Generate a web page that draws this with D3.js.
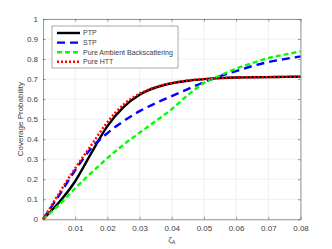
<!DOCTYPE html>
<html>
<head>
<meta charset="utf-8">
<script src="https://cdn.jsdelivr.net/npm/d3@7"></script>
<style>
  body { margin: 0; background: #fff; }
  text { font-family: "Liberation Sans", Arial, sans-serif; }
</style>
</head>
<body>
<svg id="chart" width="332" height="249"></svg>
<script>
// x values (zeta_A) shared by all curves
const zeta = [0, 0.005, 0.01, 0.015, 0.02, 0.025, 0.03, 0.035, 0.04, 0.045,
  0.05, 0.055, 0.06, 0.065, 0.07, 0.075, 0.08];
const ptp = [0, 0.085, 0.19, 0.33, 0.465, 0.56, 0.622, 0.658, 0.679, 0.692,
  0.70, 0.705, 0.708, 0.709, 0.71, 0.711, 0.712];
const stp = [0, 0.12, 0.245, 0.355, 0.43, 0.49, 0.54, 0.58, 0.615, 0.65,
  0.685, 0.715, 0.74, 0.765, 0.785, 0.80, 0.813];
const pureAB = [0, 0.072, 0.155, 0.232, 0.305, 0.372, 0.432, 0.49, 0.55, 0.62,
  0.68, 0.718, 0.752, 0.78, 0.805, 0.822, 0.838];
const pureHTT = [0, 0.13, 0.255, 0.37, 0.485, 0.572, 0.627, 0.66, 0.68, 0.693,
  0.70, 0.705, 0.708, 0.709, 0.71, 0.711, 0.712];
const xTicks = [0.01, 0.02, 0.03, 0.04, 0.05, 0.06, 0.07, 0.08];
const yTicks = [0, 0.1, 0.2, 0.3, 0.4, 0.5, 0.6, 0.7, 0.8, 0.9, 1];

const series = [
  {name: 'PTP', values: ptp, color: '#000000', dash: null},
  {name: 'STP', values: stp, color: '#0000ff', dash: '8,5'},
  {name: 'Pure Ambient Backscattering', values: pureAB, color: '#00ff00', dash: '5,3'},
  {name: 'Pure HTT', values: pureHTT, color: '#ff0000', dash: '2,2'},
];

const margin = {top: 19, right: 31.5, bottom: 29.7, left: 43};
const width = 332, height = 249;
const svg = d3.select('#chart');

const x = d3.scaleLinear().domain([0, 0.08])
    .range([margin.left, width - margin.right]);
const y = d3.scaleLinear().domain([0, 1])
    .range([height - margin.bottom, margin.top]);

// grid
svg.append('g').selectAll('line').data(xTicks).join('line')
    .attr('x1', d => x(d)).attr('x2', d => x(d))
    .attr('y1', y(0)).attr('y2', y(1))
    .attr('stroke', '#ebebeb').attr('stroke-width', 0.8);
svg.append('g').selectAll('line').data(yTicks).join('line')
    .attr('y1', d => y(d)).attr('y2', d => y(d))
    .attr('x1', x(0)).attr('x2', x(0.08))
    .attr('stroke', '#ebebeb').attr('stroke-width', 0.8);

// axes (ticks inside, box on)
const axisColor = '#555555';
const textColor = '#404040';
const styleAxis = g => {
  g.select('.domain').attr('stroke', axisColor).attr('stroke-width', 0.6);
  g.selectAll('.tick line').attr('stroke', axisColor).attr('stroke-width', 0.6);
  g.selectAll('.tick text').attr('fill', textColor)
      .style('font-family', '"Liberation Sans", Arial, sans-serif')
      .style('font-size', '8px');
};
svg.append('g').attr('transform', `translate(0,${y(0)})`)
    .call(d3.axisBottom(x).tickValues(xTicks).tickSize(-2.5).tickPadding(6)
        .tickSizeOuter(0).tickFormat(d3.format('.2f')))
    .call(styleAxis);
svg.append('g').attr('transform', `translate(0,${y(1)})`)
    .call(d3.axisTop(x).tickValues(xTicks).tickSize(-2.5).tickSizeOuter(0)
        .tickFormat(''))
    .call(styleAxis);
svg.append('g').attr('transform', `translate(${x(0)},0)`)
    .call(d3.axisLeft(y).tickValues(yTicks).tickSize(-2.5).tickPadding(5)
        .tickSizeOuter(0).tickFormat(d => d3.format('')(+d.toFixed(1))))
    .call(styleAxis);
svg.append('g').attr('transform', `translate(${x(0.08)},0)`)
    .call(d3.axisRight(y).tickValues(yTicks).tickSize(-2.5).tickSizeOuter(0)
        .tickFormat(''))
    .call(styleAxis);

// curves
const line = d3.line()
    .x((d, i) => x(zeta[i]))
    .y(d => y(d))
    .curve(d3.curveMonotoneX);
svg.append('g').selectAll('path').data(series).join('path')
    .attr('d', s => line(s.values))
    .attr('fill', 'none')
    .attr('stroke', s => s.color)
    .attr('stroke-width', 2.4)
    .attr('stroke-dasharray', s => s.dash);

// legend
const lg = svg.append('g').attr('transform', 'translate(52,26)');
lg.append('rect').attr('width', 126).attr('height', 42)
    .attr('fill', '#fff').attr('stroke', '#555555').attr('stroke-width', 0.5);
const item = lg.selectAll('g.item').data(series).join('g')
    .attr('class', 'item')
    .attr('transform', (d, i) => `translate(0,${7 + i * 9.6})`);
item.append('line').attr('x1', 5).attr('x2', 28)
    .attr('stroke', d => d.color).attr('stroke-width', 2.4)
    .attr('stroke-dasharray', d => d.dash);
item.append('text').attr('x', 31).attr('dy', '0.35em')
    .style('font-size', '7px').attr('fill', textColor)
    .text(d => d.name);

// axis labels
svg.append('text')
    .attr('transform', `translate(23,${(y(0) + y(1)) / 2}) rotate(-90)`)
    .attr('text-anchor', 'middle').style('font-size', '8px').attr('fill', textColor)
    .text('Coverage Probability');
const xl = svg.append('text')
    .attr('x', (x(0) + x(0.08)) / 2).attr('y', 242)
    .attr('text-anchor', 'middle').style('font-size', '8px').attr('fill', textColor);
xl.append('tspan').text('ζ');
xl.append('tspan').attr('dy', 2).style('font-size', '5.5px').text('A');
</script>
</body>
</html>
